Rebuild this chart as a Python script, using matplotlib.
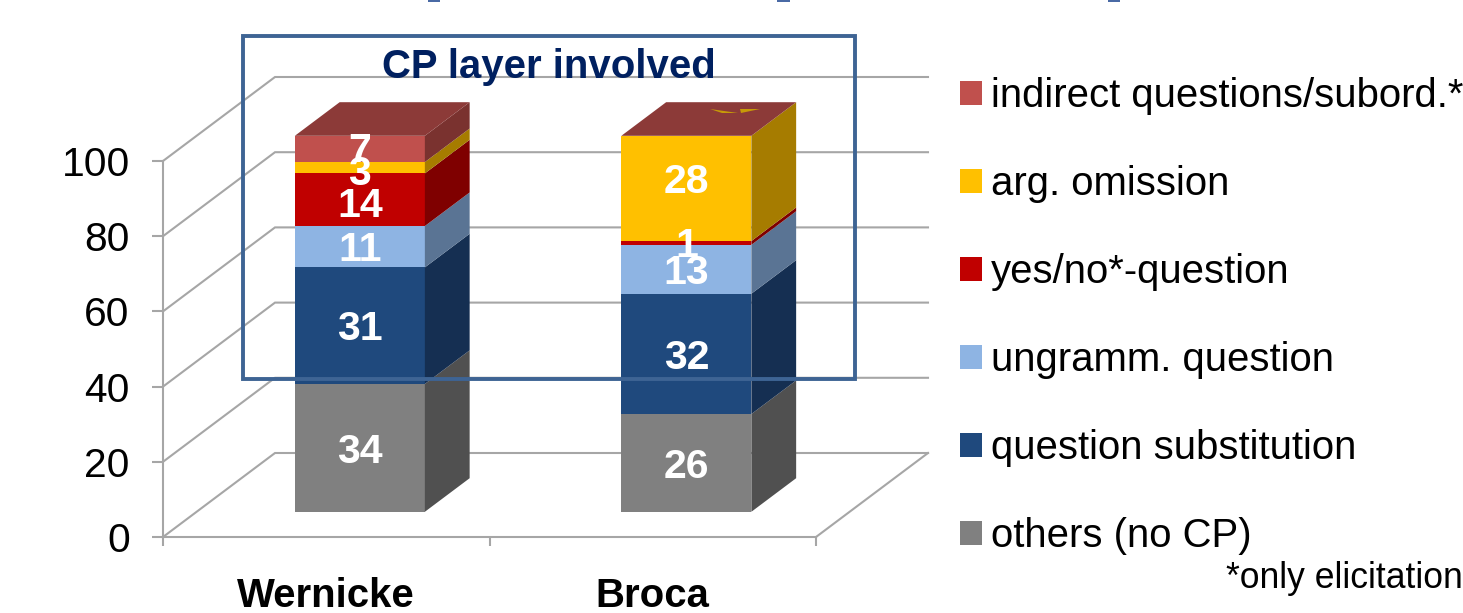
import matplotlib
matplotlib.use("Agg")
import matplotlib.pyplot as plt
from matplotlib.patches import Polygon, Rectangle, Patch
import numpy as np

W, H = 1463, 613
plt.rcParams["font.family"] = ["Liberation Sans", "DejaVu Sans"]

groups = ["Wernicke", "Broca"]
series = ["others (no CP)", "question substitution", "ungramm. question",
          "yes/no*-question", "arg. omission", "indirect questions/subord.*"]
wernicke = [34, 31, 11, 14, 3, 7]
broca = [26, 32, 13, 1, 28, 0]
y_ticks = [0, 20, 40, 60, 80, 100]

front_colors = ["#808080", "#1F497D", "#8EB4E3", "#C00000", "#FFC000", "#C0504D"]
side_colors = ["#505050", "#152F52", "#5A7494", "#7F0000", "#A67C00", "#7A322F"]
top_color = "#8C3A38"
grid_color = "#A6A6A6"

fig = plt.figure(figsize=(W / 100, H / 100), dpi=100)
ax = fig.add_axes([163 / W, 1 - 537 / H, (816 - 163) / W, (537 - 161) / H])
ax.set_xlim(0, 2)
ax.set_ylim(0, 100)
ax.patch.set_visible(False)

# Oblique projection: one unit of depth moves a point right and up on the page
px_x = (816 - 163) / 2
px_y = (537 - 161) / 100
DX = 112 / px_x
DY = 84 / px_y
BAR_NEAR, BAR_FAR = 0.3, 0.7
BAR_W = 130 / px_x
LABEL_DROP = 1.0  # value labels sit slightly under the segment middle
# Hand-placed labels, as (group, series) -> pixels upward
label_nudge = {(1, 4): 10, (0, 3): -3, (0, 4): -2, (0, 5): 2, (1, 3): 1}

# Walls and floor of the chart box
for v in y_ticks:
    ax.plot([0, DX, 2 + DX], [v, v + DY, v + DY], color=grid_color, lw=1.5,
            clip_on=False, zorder=1, solid_joinstyle="miter")
ax.plot([2, 2 + DX], [0, DY], color=grid_color, lw=1.5, clip_on=False, zorder=1)

# Stacked bars: front faces via bar(), side and top faces as polygons
for g, (centre, values) in enumerate(zip([0.5, 1.5], [wernicke, broca])):
    x0 = centre + BAR_NEAR * DX
    right = x0 + BAR_W / 2
    sx = (BAR_FAR - BAR_NEAR) * DX
    sy = (BAR_FAR - BAR_NEAR) * DY
    base = BAR_NEAR * DY
    level = 0
    for s, (val, fc, sc) in enumerate(zip(values, front_colors, side_colors)):
        if val == 0:
            continue
        ax.bar(x0, val, bottom=level + base, width=BAR_W, color=fc,
               clip_on=False, zorder=2, linewidth=0)
        lo, hi = level + base, level + val + base
        ax.add_patch(Polygon([(right, lo), (right + sx, lo + sy),
                              (right + sx, hi + sy), (right, hi)],
                             closed=True, fc=sc, ec="none", clip_on=False, zorder=2))
        label_y = (lo + hi) / 2 - LABEL_DROP + label_nudge.get((g, s), 0) / px_y
        ax.text(x0, label_y, str(val), color="white", fontsize=29.5,
                fontweight="bold", ha="center", va="center", zorder=4, clip_on=False)
        level += val
    top = level + base
    left = x0 - BAR_W / 2
    ax.add_patch(Polygon([(left, top), (right, top), (right + sx, top + sy),
                          (left + sx, top + sy)],
                         closed=True, fc=top_color, ec="none", clip_on=False, zorder=2))

# Stray sliver of the hidden amber segment showing on the Broca cap
to_data = lambda x, y: ((x - 163) / px_x, (537 - y) / px_y)
for sliver in ([(710, 109), (738, 113), (722, 113)], [(740, 109), (760, 109), (741, 113)]):
    ax.add_patch(Polygon([to_data(*p) for p in sliver], closed=True, fc="#C79A08",
                         ec="none", clip_on=False, zorder=3))

# Axes furniture
for side in ("top", "right"):
    ax.spines[side].set_visible(False)
for side in ("left", "bottom"):
    ax.spines[side].set_color(grid_color)
    ax.spines[side].set_linewidth(1.5)
ax.set_yticks(y_ticks)
ax.set_xticks([0, 1, 2])
ax.set_xticklabels([])
ax.set_xticks([0.5, 1.5], minor=True)
ax.set_xticklabels(groups, minor=True, fontsize=28.9, fontweight="bold")
ax.tick_params(axis="x", which="major", length=6.5, width=1.5, color=grid_color)
ax.tick_params(axis="x", which="minor", length=0, pad=29)
ax.tick_params(axis="y", length=8, width=1.5, color=grid_color, labelsize=29.3, pad=16)
for lab in ax.get_yticklabels():
    lab.set_verticalalignment("center_baseline")

# Highlight frame around the CP-related categories
fig.add_artist(Rectangle((243 / W, 1 - 379 / H), (855 - 243) / W, (379 - 36) / H,
                         transform=fig.transFigure, fc="none", ec="#3E6494",
                         lw=2.8, zorder=5))
fig.text(549 / W, 1 - 67 / H, "CP layer involved", color="#002060", fontsize=28.9,
         fontweight="bold", ha="center", va="center", zorder=6)

# Legend, top entry first
handles = [Patch(fc=c, ec="none") for c in front_colors][::-1]
leg = fig.legend(handles, series[::-1], loc="upper left",
                 bbox_to_anchor=(960 / W, 1 - 77 / H), frameon=False, fontsize=28.9,
                 handlelength=0.546, handleheight=0.546, handletextpad=0.22,
                 labelspacing=1.245, borderpad=0, borderaxespad=0)

fig.text(1226 / W, 1 - 578 / H, "*only elicitation", color="black", fontsize=25.6,
         ha="left", va="center")

# Descender tips of the heading line cut off by the top edge
for x0, x1 in [(428, 440), (777, 790), (1108, 1120)]:
    fig.add_artist(Rectangle((x0 / W, 1 - 2 / H), (x1 - x0) / W, 2 / H,
                             transform=fig.transFigure, fc="#4A6AA5", ec="none"))

fig.savefig("out.png", dpi=100)
